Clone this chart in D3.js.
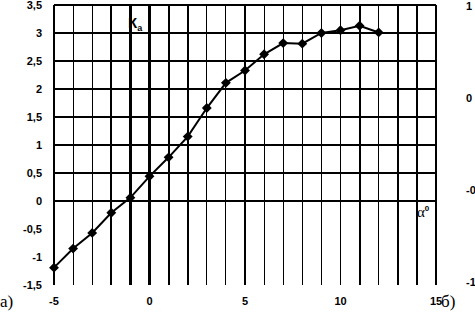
<!DOCTYPE html>
<html>
<head>
<meta charset="utf-8">
<script src="https://cdn.jsdelivr.net/npm/d3@7"></script>
<style>
  html, body { margin: 0; padding: 0; background: #fff; }
  svg { display: block; }
</style>
</head>
<body>
<svg id="chart" width="475" height="312"></svg>
<script>
// angle of attack (deg) and Ka
const alpha = [-5, -4, -3, -2, -1, 0, 1, 2, 3, 4, 5, 6, 7, 8, 9, 10, 11, 12]
const ka = [-1.19, -0.85, -0.57, -0.21, 0.06, 0.44, 0.78, 1.15, 1.66, 2.11, 2.33, 2.62, 2.82, 2.81, 3.0, 3.05, 3.13, 3.01]

const yTicks = [-1.5, -1, -0.5, 0, 0.5, 1, 1.5, 2, 2.5, 3, 3.5]
const xTicks = [-5, 0, 5, 10, 15]
const xGrid = d3.range(-5, 16)
const boldX = [-2, -1, 0, 1, 2, 11, 13, 14, 15]
const yGrid = [0.5, 1, 1.5, 2, 2.5, 3, 3.5]
// secondary axis, clipped at the right edge in the original
const y2Ticks = [1, 1 / 3, -1 / 3, -1]
const y2Labels = ['1', '0', '-0', '-1']

const svg = d3.select('#chart')

const x = d3.scaleLinear().domain([-5, 15]).range([54, 436])
const y = d3.scaleLinear().domain([-1.5, 3.5]).range([285, 5])
const y2 = d3.scaleLinear().domain([-1, 1]).range([282, 6])

const fmt = v => String(v).replace('.', ',')
const labelFont = 'bold 11px "Liberation Sans", Arial, sans-serif'

// vertical grid
svg.append('g').selectAll('line')
    .data(xGrid)
    .join('line')
    .attr('x1', d => x(d)).attr('x2', d => x(d))
    .attr('y1', y(3.5)).attr('y2', y(-1.5))
    .attr('stroke', '#000')
    .attr('stroke-width', d => boldX.includes(d) ? 2.2 : 1.1)
    .attr('shape-rendering', 'crispEdges')

// horizontal grid (only above zero)
svg.append('g').selectAll('line')
    .data(yGrid)
    .join('line')
    .attr('x1', x(-5)).attr('x2', x(15))
    .attr('y1', d => y(d)).attr('y2', d => y(d))
    .attr('stroke', '#000')
    .attr('stroke-width', 1.1)
    .attr('shape-rendering', 'crispEdges')

// zero line
svg.append('line')
    .attr('x1', x(-5)).attr('x2', x(15))
    .attr('y1', y(0)).attr('y2', y(0))
    .attr('stroke', '#000')
    .attr('stroke-width', 2.2)
    .attr('shape-rendering', 'crispEdges')

// left tick labels
svg.append('g').selectAll('text')
    .data(yTicks)
    .join('text')
    .attr('x', 42)
    .attr('y', d => y(d))
    .attr('dy', '0.35em')
    .attr('text-anchor', 'end')
    .style('font', labelFont)
    .text(fmt)

// bottom tick labels
svg.append('g').selectAll('text')
    .data(xTicks)
    .join('text')
    .attr('x', d => x(d))
    .attr('y', 301)
    .attr('dy', '0.35em')
    .attr('text-anchor', 'middle')
    .style('font', labelFont)
    .text(d => d)

// right tick labels
svg.append('g').selectAll('text')
    .data(y2Ticks)
    .join('text')
    .attr('x', 466)
    .attr('y', d => y2(d))
    .attr('dy', '0.35em')
    .style('font', labelFont)
    .text((d, i) => y2Labels[i])

// curve
const pts = alpha.map((a, i) => [a, ka[i]])
svg.append('path')
    .datum(pts)
    .attr('d', d3.line().x(d => x(d[0])).y(d => y(d[1])))
    .attr('fill', 'none')
    .attr('stroke', '#000')
    .attr('stroke-width', 2)

svg.append('g').selectAll('path')
    .data(pts)
    .join('path')
    .attr('transform', d => `translate(${x(d[0])},${y(d[1])})`)
    .attr('d', d3.symbol(d3.symbolDiamond2, 62))
    .attr('fill', '#000')

// axis names
const kaLabel = svg.append('text')
    .attr('x', 128).attr('y', 28)
    .style('font', 'bold 15px "Liberation Sans", Arial, sans-serif')
kaLabel.append('tspan').text('К')
kaLabel.append('tspan').attr('dy', 3).style('font-size', '9px').text('а')

const al = svg.append('text')
    .attr('x', 417).attr('y', 217)
    .style('font', '15px "Liberation Serif", "Times New Roman", serif')
al.append('tspan').text('α')
al.append('tspan').attr('dy', -6)
    .style('font', 'bold 8px "Liberation Sans", Arial, sans-serif').text('0')

// panel letters
svg.append('text')
    .attr('x', 0).attr('y', 307)
    .style('font', '17px "Liberation Serif", "Times New Roman", serif')
    .text('а)')
svg.append('text')
    .attr('x', 441).attr('y', 307)
    .style('font', '17px "Liberation Serif", "Times New Roman", serif')
    .text('б)')
</script>
</body>
</html>
